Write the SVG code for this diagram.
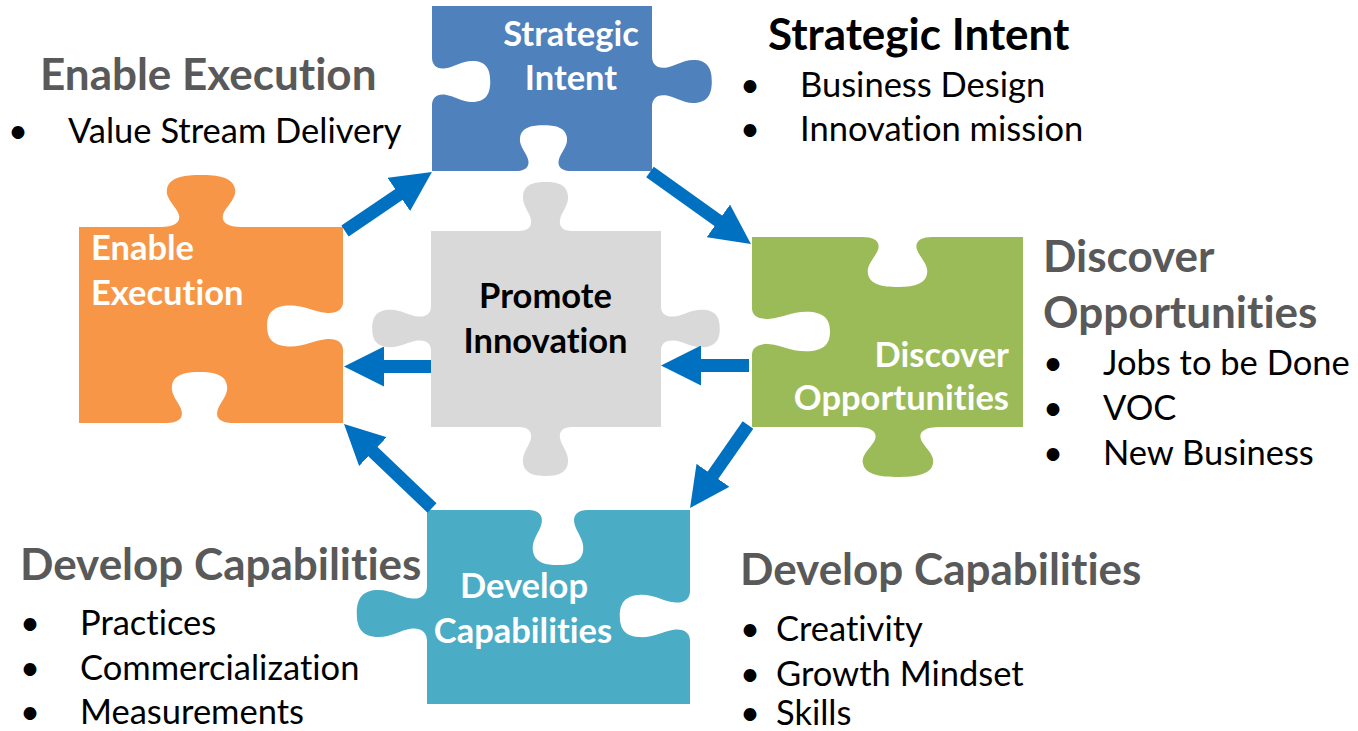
<svg xmlns="http://www.w3.org/2000/svg" xmlns:xlink="http://www.w3.org/1999/xlink" width="1358" height="731" viewBox="0 0 1358 731">
<style>
text{font-family:Lato,"Liberation Sans",sans-serif;font-variant-ligatures:none}
.pl{font-size:34.5px;font-weight:bold;fill:#fff}
.pc{font-size:34.5px;font-weight:bold;fill:#000}
.hd{font-size:44px;font-weight:bold;fill:#595959}
.hk{font-size:44px;font-weight:bold;fill:#000}
.bl{font-size:34.5px;fill:#000}
.conn line{stroke:#0070C0;stroke-width:13;fill:none}
.blue{fill:#4F81BD}.orange{fill:#F79646}.green{fill:#9BBB59}.teal{fill:#4BACC6}.gray{fill:#D9D9D9}.hole{fill:#fff}
</style>
<defs>
<path id="tab" d="M-40,1 L-40,0 C-28,0 -20,-4 -22,-12 C-24,-20 -36,-28 -34,-38 C-32,-50 -16,-52 0,-52 C16,-52 32,-50 34,-38 C36,-28 24,-20 22,-12 C20,-4 28,0 40,0 L40,1 Z"/>
<marker id="ah" markerUnits="userSpaceOnUse" markerWidth="40" markerHeight="40" viewBox="0 0 40 40" refX="2" refY="20" orient="auto">
<path d="M0,0 L40,20 L0,40 Z" fill="#0070C0"/>
</marker>
</defs>

<g id="node-strategic-intent">
<rect class="blue" x="432" y="6" width="220" height="165"/>
<use xlink:href="#tab" class="blue" transform="translate(652,81.5) rotate(90) scale(0.63,1.15)"/>
<use xlink:href="#tab" class="hole" transform="translate(432,81.5) rotate(90) scale(0.6,1.12)"/>
<use xlink:href="#tab" class="hole" transform="translate(543.5,171) rotate(0) scale(0.69,0.88)"/>
<text class="pl" x="571" y="46" text-anchor="middle">Strategic</text>
<text class="pl" x="571" y="90" text-anchor="middle">Intent</text>
</g>

<g id="node-enable-execution">
<rect class="orange" x="79" y="227" width="264" height="196"/>
<use xlink:href="#tab" class="orange" transform="translate(201,227) scale(1,1)"/>
<use xlink:href="#tab" class="hole" transform="translate(343,326) rotate(-90) scale(0.6,1.46)"/>
<use xlink:href="#tab" class="hole" transform="translate(199.5,423) scale(0.81,0.98)"/>
<text class="pl" x="91" y="260">Enable</text>
<text class="pl" x="91" y="305">Execution</text>
</g>

<g id="node-discover-opportunities">
<rect class="green" x="752" y="237" width="271" height="190"/>
<use xlink:href="#tab" class="green" transform="translate(898,427) rotate(180) scale(1.03,0.96)"/>
<use xlink:href="#tab" class="hole" transform="translate(897.5,237) rotate(180) scale(0.87,0.96)"/>
<use xlink:href="#tab" class="hole" transform="translate(752,331.5) rotate(90) scale(0.58,1.5)"/>
<text class="pl" x="1009" y="367" text-anchor="end">Discover</text>
<text class="pl" x="1009" y="410" text-anchor="end">Opportunities</text>
</g>

<g id="node-develop-capabilities">
<rect class="teal" x="427" y="510" width="263" height="194"/>
<use xlink:href="#tab" class="teal" transform="translate(427,613.5) rotate(-90) scale(0.69,1.35)"/>
<use xlink:href="#tab" class="hole" transform="translate(558,510) rotate(180) scale(0.74,1.06)"/>
<use xlink:href="#tab" class="hole" transform="translate(690,616) rotate(-90) scale(0.62,1.35)"/>
<text class="pl" x="524" y="598" text-anchor="middle">Develop</text>
<text class="pl" x="523" y="643" text-anchor="middle">Capabilities</text>
</g>

<g id="node-promote-innovation">
<rect class="gray" x="431" y="231" width="230" height="196"/>
<use xlink:href="#tab" class="gray" transform="translate(545.5,231) scale(0.66,0.94)"/>
<use xlink:href="#tab" class="gray" transform="translate(545.5,427) rotate(180) scale(0.66,0.94)"/>
<use xlink:href="#tab" class="gray" transform="translate(431,328.5) rotate(-90) scale(0.55,1.13)"/>
<use xlink:href="#tab" class="gray" transform="translate(661,328.5) rotate(90) scale(0.55,1.13)"/>
<text class="pc" x="545.5" y="308" text-anchor="middle">Promote</text>
<text class="pc" x="545.5" y="353" text-anchor="middle">Innovation</text>
</g>

<g id="connectors" class="conn">
<line x1="345" y1="231" x2="400.5" y2="193.3" marker-end="url(#ah)"/>
<line x1="650" y1="172" x2="720" y2="222" marker-end="url(#ah)"/>
<line x1="749" y1="365.5" x2="699" y2="365.5" marker-end="url(#ah)"/>
<line x1="431" y1="366.5" x2="382" y2="366.5" marker-end="url(#ah)"/>
<line x1="748" y1="425" x2="711.8" y2="476.9" marker-end="url(#ah)"/>
<line x1="432" y1="508" x2="371.5" y2="450.2" marker-end="url(#ah)"/>
</g>

<g id="label-strategic-intent">
<text class="hk" x="768" y="50">Strategic Intent</text>
<text class="bl" x="740" y="97">•</text><text class="bl" x="800" y="97">Business Design</text>
<text class="bl" x="740" y="141">•</text><text class="bl" x="800" y="141">Innovation mission</text>
</g>
<g id="label-enable-execution">
<text class="hd" x="40" y="90">Enable Execution</text>
<text class="bl" x="8" y="143">•</text><text class="bl" x="68" y="143">Value Stream Delivery</text>
</g>
<g id="label-discover-opportunities">
<text class="hd" x="1043" y="272">Discover</text>
<text class="hd" x="1043" y="328">Opportunities</text>
<text class="bl" x="1043" y="375">•</text><text class="bl" x="1103" y="375">Jobs to be Done</text>
<text class="bl" x="1043" y="420">•</text><text class="bl" x="1103" y="420">VOC</text>
<text class="bl" x="1043" y="465">•</text><text class="bl" x="1103" y="465">New Business</text>
</g>
<g id="label-develop-capabilities-left">
<text class="hd" x="20" y="580">Develop Capabilities</text>
<text class="bl" x="20" y="635">•</text><text class="bl" x="80" y="635">Practices</text>
<text class="bl" x="20" y="680">•</text><text class="bl" x="80" y="680">Commercialization</text>
<text class="bl" x="20" y="724">•</text><text class="bl" x="80" y="724">Measurements</text>
</g>
<g id="label-develop-capabilities-right">
<text class="hd" x="740" y="585">Develop Capabilities</text>
<text class="bl" x="740" y="641">•</text><text class="bl" x="776" y="641">Creativity</text>
<text class="bl" x="740" y="686">•</text><text class="bl" x="776" y="686">Growth Mindset</text>
<text class="bl" x="740" y="725">•</text><text class="bl" x="776" y="725">Skills</text>
</g>
</svg>
